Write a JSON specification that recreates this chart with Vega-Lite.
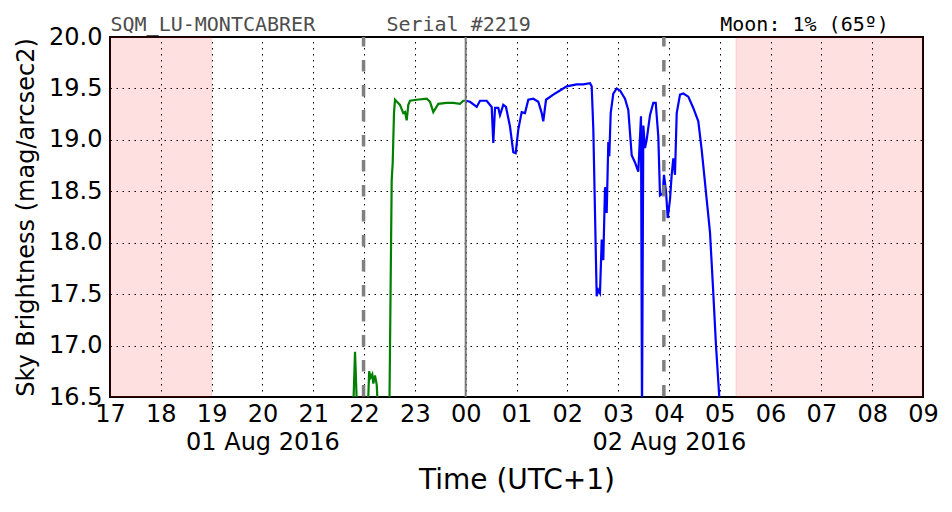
{
  "$schema": "https://vega.github.io/schema/vega-lite/v6.json",
  "width": 813,
  "height": 360,
  "autosize": "none",
  "padding": {"left": 110, "top": 37, "right": 29, "bottom": 115},
  "background": "white",
  "config": {
    "view": {"stroke": "black", "strokeWidth": 2},
    "font": "DejaVu Sans",
    "axis": {"labelFont": "DejaVu Sans", "titleFont": "DejaVu Sans", "labelColor": "black", "titleColor": "black", "titleFontWeight": "normal", "labelLimit": 0}
  },
  "datasets": {
    "shade": [
      {"start": 17, "end": 19.0},
      {"start": 29.32, "end": 33}
    ],
    "marks": [
      {"t": 21.99},
      {"t": 27.9}
    ],
    "midnight": [
      {"t": 24}
    ],
    "readings": [
      {"h": 21.782, "v": 16.3, "s": "evening"},
      {"h": 21.822, "v": 16.94, "s": "evening"},
      {"h": 21.867, "v": 16.3, "s": "evening"},
      {"h": 22.07, "v": 16.3, "s": "evening"},
      {"h": 22.10, "v": 16.75, "s": "evening"},
      {"h": 22.131, "v": 16.69, "s": "evening"},
      {"h": 22.162, "v": 16.72, "s": "evening"},
      {"h": 22.182, "v": 16.63, "s": "evening"},
      {"h": 22.215, "v": 16.71, "s": "evening"},
      {"h": 22.249, "v": 16.62, "s": "evening"},
      {"h": 22.280, "v": 16.3, "s": "evening"},
      {"h": 22.497, "v": 16.3, "s": "evening"},
      {"h": 22.524, "v": 17.64, "s": "evening"},
      {"h": 22.544, "v": 18.61, "s": "evening"},
      {"h": 22.564, "v": 18.78, "s": "evening"},
      {"h": 22.589, "v": 19.26, "s": "evening"},
      {"h": 22.609, "v": 19.39, "s": "evening"},
      {"h": 22.707, "v": 19.34, "s": "evening"},
      {"h": 22.772, "v": 19.26, "s": "evening"},
      {"h": 22.806, "v": 19.27, "s": "evening"},
      {"h": 22.839, "v": 19.19, "s": "evening"},
      {"h": 22.871, "v": 19.34, "s": "evening"},
      {"h": 22.904, "v": 19.38, "s": "evening"},
      {"h": 23.036, "v": 19.39, "s": "evening"},
      {"h": 23.233, "v": 19.40, "s": "evening"},
      {"h": 23.298, "v": 19.37, "s": "evening"},
      {"h": 23.363, "v": 19.27, "s": "evening"},
      {"h": 23.461, "v": 19.35, "s": "evening"},
      {"h": 23.626, "v": 19.36, "s": "evening"},
      {"h": 23.756, "v": 19.36, "s": "evening"},
      {"h": 23.888, "v": 19.35, "s": "evening"},
      {"h": 23.953, "v": 19.38, "s": "evening"},
      {"h": 24.0, "v": 19.38, "s": "evening"},
      {"h": 24.0, "v": 19.38, "s": "morning"},
      {"h": 24.085, "v": 19.37, "s": "morning"},
      {"h": 24.217, "v": 19.32, "s": "morning"},
      {"h": 24.282, "v": 19.38, "s": "morning"},
      {"h": 24.413, "v": 19.38, "s": "morning"},
      {"h": 24.512, "v": 19.32, "s": "morning"},
      {"h": 24.543, "v": 18.97, "s": "morning"},
      {"h": 24.577, "v": 19.31, "s": "morning"},
      {"h": 24.642, "v": 19.31, "s": "morning"},
      {"h": 24.675, "v": 19.24, "s": "morning"},
      {"h": 24.740, "v": 19.34, "s": "morning"},
      {"h": 24.793, "v": 19.32, "s": "morning"},
      {"h": 24.872, "v": 19.13, "s": "morning"},
      {"h": 24.937, "v": 18.88, "s": "morning"},
      {"h": 24.984, "v": 18.87, "s": "morning"},
      {"h": 25.035, "v": 19.10, "s": "morning"},
      {"h": 25.102, "v": 19.27, "s": "morning"},
      {"h": 25.167, "v": 19.26, "s": "morning"},
      {"h": 25.232, "v": 19.39, "s": "morning"},
      {"h": 25.331, "v": 19.40, "s": "morning"},
      {"h": 25.429, "v": 19.37, "s": "morning"},
      {"h": 25.496, "v": 19.26, "s": "morning"},
      {"h": 25.527, "v": 19.18, "s": "morning"},
      {"h": 25.581, "v": 19.39, "s": "morning"},
      {"h": 25.724, "v": 19.44, "s": "morning"},
      {"h": 25.856, "v": 19.48, "s": "morning"},
      {"h": 25.988, "v": 19.52, "s": "morning"},
      {"h": 26.185, "v": 19.54, "s": "morning"},
      {"h": 26.315, "v": 19.54, "s": "morning"},
      {"h": 26.446, "v": 19.55, "s": "morning"},
      {"h": 26.480, "v": 19.52, "s": "morning"},
      {"h": 26.512, "v": 19.10, "s": "morning"},
      {"h": 26.545, "v": 18.29, "s": "morning"},
      {"h": 26.578, "v": 17.48, "s": "morning"},
      {"h": 26.610, "v": 17.54, "s": "morning"},
      {"h": 26.643, "v": 17.51, "s": "morning"},
      {"h": 26.677, "v": 18.03, "s": "morning"},
      {"h": 26.708, "v": 17.83, "s": "morning"},
      {"h": 26.742, "v": 18.54, "s": "morning"},
      {"h": 26.775, "v": 18.29, "s": "morning"},
      {"h": 26.807, "v": 18.98, "s": "morning"},
      {"h": 26.826, "v": 18.84, "s": "morning"},
      {"h": 26.854, "v": 19.26, "s": "morning"},
      {"h": 26.905, "v": 19.45, "s": "morning"},
      {"h": 26.972, "v": 19.50, "s": "morning"},
      {"h": 27.037, "v": 19.48, "s": "morning"},
      {"h": 27.135, "v": 19.40, "s": "morning"},
      {"h": 27.200, "v": 19.29, "s": "morning"},
      {"h": 27.267, "v": 18.85, "s": "morning"},
      {"h": 27.332, "v": 18.78, "s": "morning"},
      {"h": 27.397, "v": 18.69, "s": "morning"},
      {"h": 27.450, "v": 19.23, "s": "morning"},
      {"h": 27.470, "v": 16.3, "s": "morning"},
      {"h": 27.496, "v": 19.14, "s": "morning"},
      {"h": 27.529, "v": 18.92, "s": "morning"},
      {"h": 27.562, "v": 19.00, "s": "morning"},
      {"h": 27.627, "v": 19.24, "s": "morning"},
      {"h": 27.692, "v": 19.36, "s": "morning"},
      {"h": 27.740, "v": 19.36, "s": "morning"},
      {"h": 27.791, "v": 19.03, "s": "morning"},
      {"h": 27.824, "v": 18.46, "s": "morning"},
      {"h": 27.877, "v": 18.48, "s": "morning"},
      {"h": 27.903, "v": 18.66, "s": "morning"},
      {"h": 27.942, "v": 18.50, "s": "morning"},
      {"h": 27.976, "v": 18.24, "s": "morning"},
      {"h": 28.021, "v": 18.42, "s": "morning"},
      {"h": 28.054, "v": 18.66, "s": "morning"},
      {"h": 28.086, "v": 18.82, "s": "morning"},
      {"h": 28.119, "v": 18.66, "s": "morning"},
      {"h": 28.153, "v": 19.26, "s": "morning"},
      {"h": 28.218, "v": 19.44, "s": "morning"},
      {"h": 28.283, "v": 19.45, "s": "morning"},
      {"h": 28.381, "v": 19.42, "s": "morning"},
      {"h": 28.479, "v": 19.31, "s": "morning"},
      {"h": 28.578, "v": 19.18, "s": "morning"},
      {"h": 28.645, "v": 18.90, "s": "morning"},
      {"h": 28.743, "v": 18.42, "s": "morning"},
      {"h": 28.808, "v": 18.10, "s": "morning"},
      {"h": 28.873, "v": 17.51, "s": "morning"},
      {"h": 28.926, "v": 17.0, "s": "morning"},
      {"h": 28.991, "v": 16.5, "s": "morning"},
      {"h": 29.01, "v": 16.3, "s": "morning"}
    ]
  },
  "layer": [
    {
      "data": {"name": "shade"},
      "mark": {"type": "rect", "fill": "#ff0000", "fillOpacity": 0.12, "stroke": "#ff0000", "strokeOpacity": 0.12, "strokeWidth": 1},
      "encoding": {
        "x": {
          "field": "start", "type": "quantitative",
          "scale": {"domain": [17, 33], "nice": false, "zero": false},
          "axis": {
            "orient": "bottom", "values": [17, 18, 19, 20, 21, 22, 23, 24, 25, 26, 27, 28, 29, 30, 31, 32, 33],
            "labelExpr": "(datum.value % 24 < 10 ? '0' : '') + (datum.value % 24)",
            "labelFontSize": 24, "labelPadding": 5, "labelFlush": false, "labelOverlap": false,
            "ticks": false, "domain": false, "title": null,
            "grid": true, "gridColor": "black", "gridOpacity": 1, "gridWidth": 1, "gridDash": [1.5, 4.5]
          }
        },
        "x2": {"field": "end"}
      }
    },
    {
      "data": {"name": "readings"},
      "mark": {"type": "line", "strokeWidth": 2.2, "clip": true},
      "encoding": {
        "x": {"field": "h", "type": "quantitative", "scale": {"domain": [17, 33], "nice": false, "zero": false}, "axis": null},
        "y": {
          "field": "v", "type": "quantitative",
          "scale": {"domain": [16.5, 20], "nice": false, "zero": false},
          "axis": {
            "values": [16.5, 17, 17.5, 18, 18.5, 19, 19.5, 20], "format": ".1f",
            "labelFontSize": 24, "labelPadding": 8, "labelFlush": false, "labelOverlap": false,
            "ticks": false, "domain": false,
            "title": "Sky Brightness (mag/arcsec2)", "titleFontSize": 24, "titlePadding": 10,
            "grid": true, "gridColor": "black", "gridOpacity": 1, "gridWidth": 1, "gridDash": [1.5, 4.5]
          }
        },
        "color": {"field": "s", "type": "nominal", "scale": {"domain": ["evening", "morning"], "range": ["#008000", "#0000ff"]}, "legend": null},
        "order": {"field": "h", "type": "quantitative"}
      }
    },
    {
      "data": {"name": "marks"},
      "mark": {"type": "rule", "color": "#808080", "strokeWidth": 3.5, "strokeDash": [11.5, 13.5], "strokeDashOffset": 2},
      "encoding": {
        "x": {
          "field": "t", "type": "quantitative",
          "scale": {"domain": [17, 33], "nice": false, "zero": false},
          "axis": {
            "orient": "top", "values": [17, 22.43, 29.0],
            "labelExpr": "datum.value < 20 ? 'SQM_LU-MONTCABRER' : (datum.value < 25 ? 'Serial #2219' : 'Moon: 1% (65º)')",
            "labelFont": "DejaVu Sans Mono", "labelFontSize": 20, "labelAlign": "left", "labelBaseline": "alphabetic",
            "labelColor": {"condition": {"test": "datum.value > 25", "value": "black"}, "value": "#4d4d4d"},
            "labelPadding": 7, "labelFlush": false, "labelOverlap": false, "labelBound": false, "labelLimit": 0,
            "ticks": false, "domain": false, "grid": false, "title": null
          }
        }
      }
    },
    {
      "data": {"name": "midnight"},
      "mark": {"type": "rule", "color": "#7a7a7a", "strokeWidth": 2},
      "encoding": {
        "x": {
          "field": "t", "type": "quantitative",
          "scale": {"domain": [17, 33], "nice": false, "zero": false},
          "axis": {
            "orient": "bottom", "values": [20, 28],
            "labelExpr": "datum.value < 24 ? '01 Aug 2016' : '02 Aug 2016'",
            "labelFontSize": 24, "labelPadding": 33, "labelFlush": false, "labelOverlap": false,
            "ticks": false, "domain": false, "grid": false,
            "title": "Time (UTC+1)", "titleFontSize": 28, "titlePadding": 12
          }
        }
      }
    }
  ],
  "resolve": {"axis": {"x": "independent"}}
}
